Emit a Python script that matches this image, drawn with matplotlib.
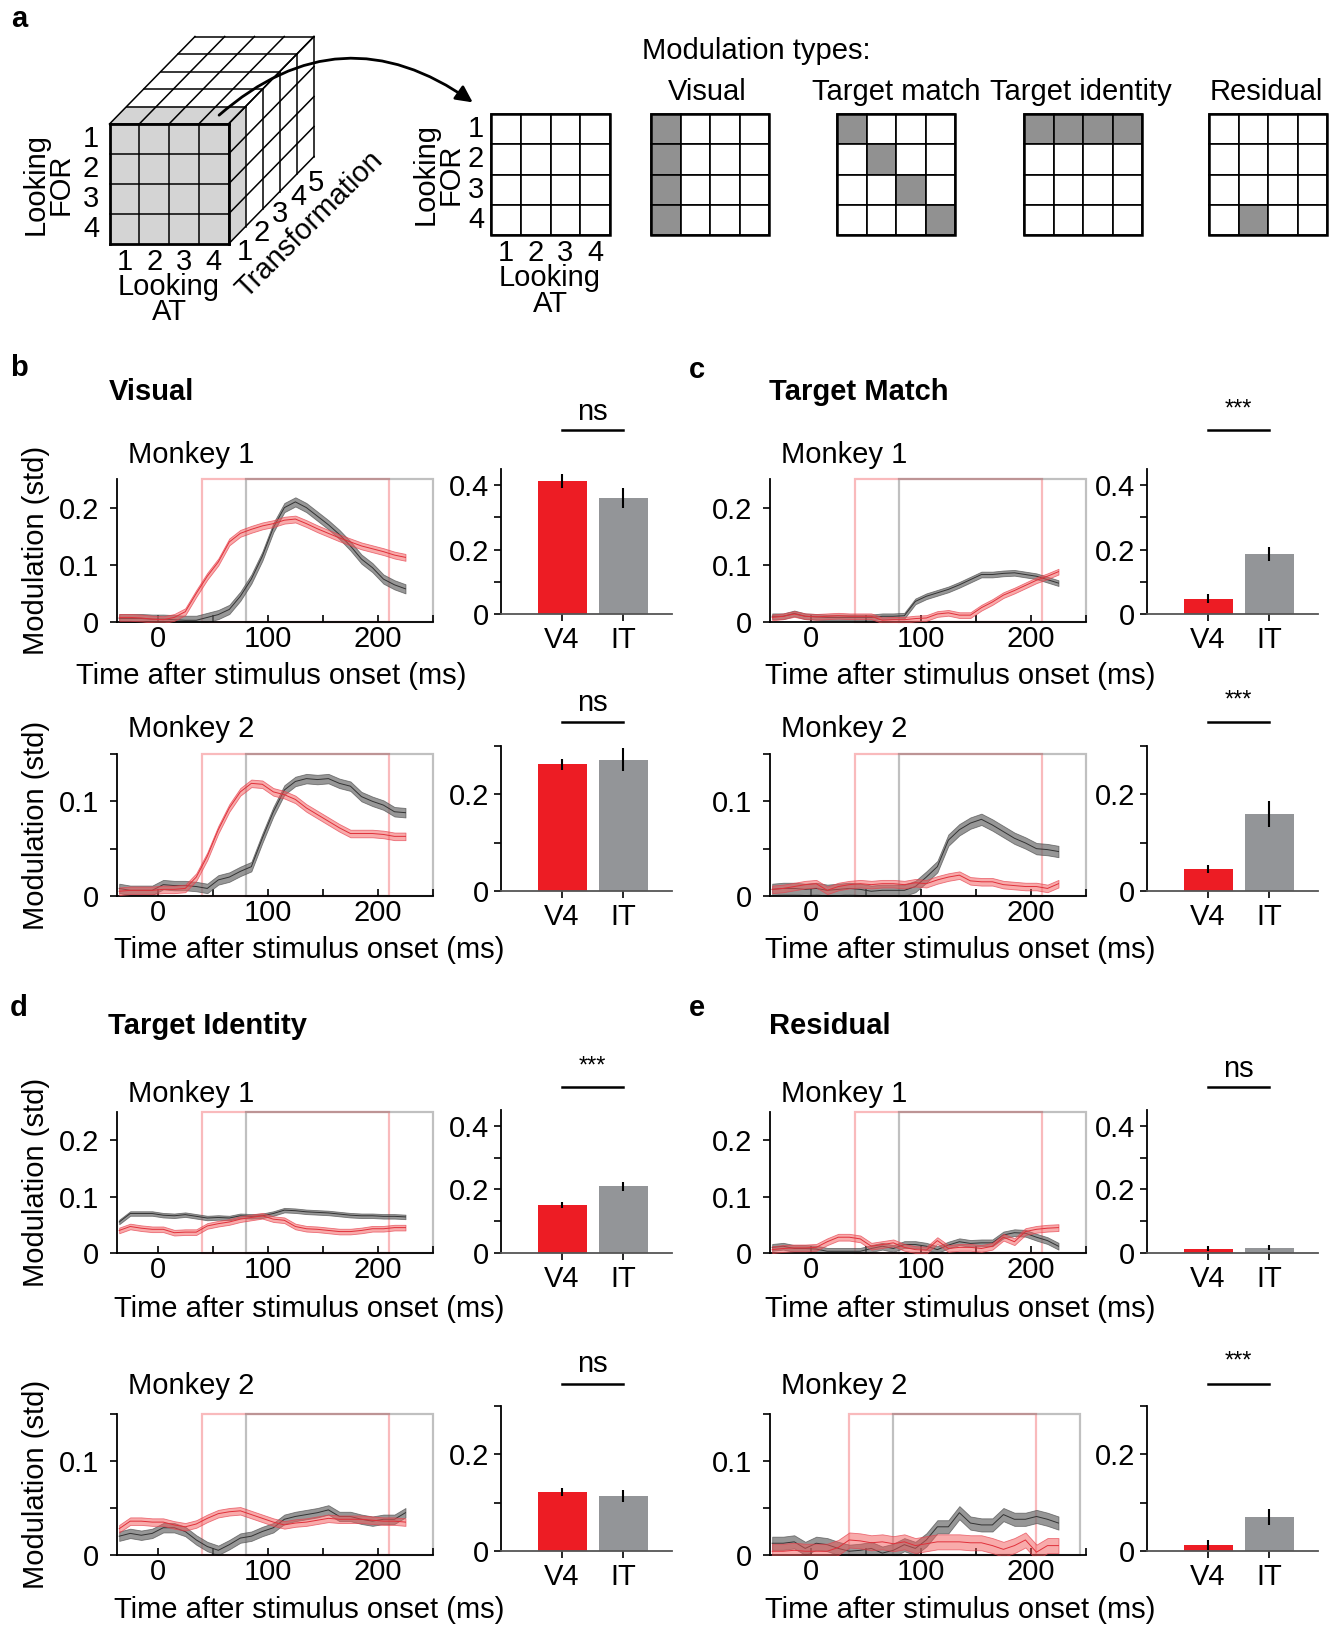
import numpy as np
import matplotlib.pyplot as plt
from matplotlib.patches import Rectangle, Polygon, FancyArrowPatch
from matplotlib import transforms

plt.rcParams['font.family'] = ['Liberation Sans', 'DejaVu Sans']

W, H = 1329, 1625
FS = 21
RED = '#ed1c24'
GRAY = '#939598'

# czas po pojawieniu sie bodzca (ms)
t = np.array([-35, -25, -15, -5, 5, 15, 25, 35, 45, 55, 65, 75, 85, 95,
              105, 115, 125, 135, 145, 155, 165, 175, 185, 195, 205, 215, 225])

# Visual
vis1_v4 = [0.008, 0.008, 0.007, 0.005, 0.004, 0.008, 0.018, 0.05, 0.08, 0.105, 0.14, 0.155, 0.162, 0.168,
           0.172, 0.178, 0.18, 0.172, 0.163, 0.155, 0.147, 0.14, 0.133, 0.128, 0.123, 0.117, 0.113]
vis1_it = [0.006, 0.006, 0.006, 0.005, 0.005, 0.004, 0.003, 0.003, 0.008, 0.013, 0.022, 0.045, 0.075, 0.115,
           0.165, 0.2, 0.21, 0.2, 0.185, 0.17, 0.153, 0.133, 0.11, 0.095, 0.075, 0.065, 0.058]
vis2_v4 = [0.005, 0.006, 0.006, 0.006, 0.007, 0.007, 0.008, 0.02, 0.042, 0.07, 0.093, 0.11, 0.119, 0.118,
           0.11, 0.107, 0.102, 0.093, 0.086, 0.079, 0.072, 0.066, 0.066, 0.066, 0.065, 0.063, 0.063]
vis2_it = [0.008, 0.006, 0.006, 0.006, 0.012, 0.011, 0.011, 0.01, 0.008, 0.017, 0.02, 0.026, 0.031, 0.061,
           0.089, 0.112, 0.121, 0.124, 0.123, 0.124, 0.119, 0.116, 0.105, 0.1, 0.096, 0.089, 0.088]
# Target match
tm1_v4 = [0.008, 0.01, 0.014, 0.01, 0.009, 0.01, 0.011, 0.01, 0.01, 0.01, 0.003, 0.004, 0.004, 0.006,
          0.007, 0.014, 0.016, 0.012, 0.012, 0.025, 0.035, 0.047, 0.055, 0.064, 0.073, 0.08, 0.088]
tm1_it = [0.01, 0.01, 0.015, 0.01, 0.009, 0.008, 0.008, 0.008, 0.008, 0.008, 0.01, 0.01, 0.011, 0.036,
          0.045, 0.051, 0.057, 0.065, 0.074, 0.083, 0.083, 0.085, 0.086, 0.083, 0.08, 0.074, 0.068]
tm2_v4 = [0.007, 0.008, 0.01, 0.012, 0.013, 0.006, 0.01, 0.012, 0.013, 0.012, 0.013, 0.013, 0.012, 0.014,
          0.013, 0.017, 0.02, 0.022, 0.016, 0.015, 0.015, 0.012, 0.011, 0.01, 0.01, 0.008, 0.013]
tm2_it = [0.007, 0.008, 0.008, 0.007, 0.008, 0.006, 0.007, 0.008, 0.007, 0.005, 0.006, 0.006, 0.006, 0.01,
          0.02, 0.031, 0.059, 0.07, 0.077, 0.081, 0.075, 0.068, 0.061, 0.056, 0.05, 0.049, 0.047]
# Target identity
ti1_v4 = [0.04, 0.047, 0.044, 0.042, 0.042, 0.036, 0.037, 0.037, 0.048, 0.052, 0.055, 0.06, 0.063, 0.066,
          0.06, 0.058, 0.047, 0.043, 0.042, 0.04, 0.038, 0.038, 0.04, 0.043, 0.043, 0.045, 0.045]
ti1_it = [0.055, 0.07, 0.07, 0.07, 0.067, 0.066, 0.068, 0.065, 0.062, 0.063, 0.062, 0.066, 0.065, 0.066,
          0.07, 0.076, 0.075, 0.073, 0.072, 0.071, 0.069, 0.067, 0.066, 0.066, 0.065, 0.065, 0.064]
ti2_v4 = [0.028, 0.036, 0.036, 0.035, 0.035, 0.032, 0.03, 0.033, 0.039, 0.044, 0.046, 0.047, 0.043, 0.039,
          0.035, 0.032, 0.034, 0.035, 0.037, 0.039, 0.038, 0.038, 0.038, 0.037, 0.036, 0.036, 0.035]
ti2_it = [0.02, 0.023, 0.021, 0.023, 0.029, 0.029, 0.025, 0.016, 0.009, 0.005, 0.011, 0.018, 0.02, 0.025,
          0.029, 0.038, 0.041, 0.043, 0.045, 0.048, 0.041, 0.041, 0.038, 0.036, 0.038, 0.038, 0.045]
# Residual
res1_v4 = [0.006, 0.008, 0.009, 0.009, 0.01, 0.02, 0.028, 0.028, 0.025, 0.012, 0.015, 0.018, 0.01, 0.006,
           0.005, 0.022, 0.008, 0.01, 0.01, 0.008, 0.012, 0.028, 0.02, 0.038, 0.042, 0.044, 0.045]
res1_it = [0.01, 0.012, 0.008, 0.008, 0.007, 0.003, 0.003, 0.003, 0.003, 0.008, 0.012, 0.008, 0.015, 0.015,
           0.012, 0.006, 0.014, 0.02, 0.017, 0.018, 0.018, 0.032, 0.036, 0.035, 0.028, 0.022, 0.012]
res2_v4 = [0.004, 0.004, 0.005, 0.004, 0.004, 0.004, 0.008, 0.016, 0.015, 0.013, 0.014, 0.012, 0.014, 0.01,
           0.012, 0.014, 0.014, 0.014, 0.013, 0.013, 0.01, 0.006, 0.01, 0.016, 0.003, 0.01, 0.01]
res2_it = [0.0125, 0.0125, 0.014, 0.007, 0.0125, 0.011, 0.007, 0.004, 0.005, 0.007, 0.002, 0.005, 0.011, 0.007,
           0.016, 0.03, 0.03, 0.045, 0.034, 0.032, 0.032, 0.043, 0.038, 0.038, 0.041, 0.038, 0.034]

# polowa szerokosci pasma (SEM), kolejno V4, IT
sem_vis1 = (0.006, 0.008)
sem_vis2 = (0.004, 0.005)
sem_tm1 = (0.005, 0.005)
sem_tm2 = (0.004, 0.006)
sem_ti1 = (0.005, 0.004)
sem_ti2 = (0.004, 0.005)
sem_res1 = (0.006, 0.006)
sem_res2 = (0.008, 0.007)

# slupki: kolejnosc b1, b2, c1, c2, d1, d2, e1, e2
bar_v4 = [0.413, 0.262, 0.047, 0.045, 0.152, 0.122, 0.013, 0.013]
bar_v4_err = [0.023, 0.012, 0.014, 0.008, 0.010, 0.008, 0.008, 0.010]
bar_it = [0.36, 0.272, 0.187, 0.16, 0.21, 0.114, 0.016, 0.07]
bar_it_err = [0.03, 0.023, 0.022, 0.027, 0.015, 0.013, 0.008, 0.017]
sig = ['ns', 'ns', '***', '***', '***', 'ns', 'ns', '***']
bar_labels = ['V4', 'IT']

# wzory modulacji (wiersz, kolumna)
mod_names = ['Visual', 'Target match', 'Target identity', 'Residual']
visual_cells = [(0, 0), (1, 0), (2, 0), (3, 0)]
match_cells = [(0, 0), (1, 1), (2, 2), (3, 3)]
identity_cells = [(0, 0), (0, 1), (0, 2), (0, 3)]
residual_cells = [(3, 1)]

fig = plt.figure(figsize=(W / 100, H / 100), dpi=100)
ov = fig.add_axes([0, 0, 1, 1])
ov.set_xlim(0, W)
ov.set_ylim(H, 0)
ov.axis('off')


def px_axes(l, top, r, b):
    return fig.add_axes([l / W, 1 - b / H, (r - l) / W, (b - top) / H])


# ---------------- panel a ----------------
fx0, fy0, cw, ch = 109.5, 124.0, 29.75, 30.0
ddx, ddy = 17.1, -17.5
fx1, fy1 = fx0 + 4 * cw, fy0 + 4 * ch
grey_face = '#d4d4d4'
ov.add_patch(Polygon([(fx0, fy0), (fx1, fy0), (fx1, fy1), (fx0, fy1)], fc=grey_face, ec='none'))
ov.add_patch(Polygon([(fx0, fy0), (fx0 + ddx, fy0 + ddy), (fx1 + ddx, fy0 + ddy), (fx1, fy0)], fc=grey_face, ec='none'))
ov.add_patch(Polygon([(fx1, fy0), (fx1 + ddx, fy0 + ddy), (fx1 + ddx, fy1 + ddy), (fx1, fy1)], fc=grey_face, ec='none'))


def seg(x0, y0, x1, y1, lw=1.1):
    ov.plot([x0, x1], [y0, y1], color='k', lw=lw, solid_capstyle='projecting')


for k in range(6):
    seg(fx0 + k * ddx, fy0 + k * ddy, fx1 + k * ddx, fy0 + k * ddy)
    seg(fx1 + k * ddx, fy0 + k * ddy, fx1 + k * ddx, fy1 + k * ddy)
for j in range(5):
    seg(fx0 + j * cw, fy0, fx0 + j * cw + 5 * ddx, fy0 + 5 * ddy)
    seg(fx0 + j * cw, fy0, fx0 + j * cw, fy1, lw=2 if j in (0, 4) else 1.1)
for i in range(5):
    seg(fx1, fy0 + i * ch, fx1 + 5 * ddx, fy0 + i * ch + 5 * ddy)
    seg(fx0, fy0 + i * ch, fx1, fy0 + i * ch, lw=2 if i in (0, 4) else 1.1)

for i in range(4):
    ov.text(91, fy0 + (i + 0.5) * ch, str(i + 1), fontsize=FS, ha='center', va='center')
    ov.text(fx0 + (i + 0.5) * cw, 262, str(i + 1), fontsize=FS, ha='center', va='center')
ov.text(48, 184, 'Looking\nFOR', fontsize=FS, rotation=90, ha='center', va='center',
        multialignment='center', linespacing=0.85)
ov.text(169, 287, 'Looking', fontsize=FS, ha='center', va='center')
ov.text(169, 312, 'AT', fontsize=FS, ha='center', va='center')
for k, (x, y) in enumerate([(245, 252), (262, 233), (280, 214), (298, 197), (316, 183)]):
    ov.text(x, y, str(k + 1), fontsize=FS, ha='center', va='center')
ov.text(310, 224, 'Transformation', fontsize=FS, rotation=45, ha='center', va='center',
        rotation_mode='anchor')

ov.add_patch(FancyArrowPatch((217, 117), (475, 104), connectionstyle='arc3,rad=-0.4',
                             arrowstyle='-|>', mutation_scale=25, lw=2, color='k'))


def grid4(x0, y0, x1, y1, cells):
    gw, gh = (x1 - x0) / 4, (y1 - y0) / 4
    for i in range(4):
        for j in range(4):
            fc = '#919191' if (i, j) in cells else 'white'
            ov.add_patch(Rectangle((x0 + j * gw, y0 + i * gh), gw, gh, fc=fc, ec='k', lw=1.2))
    ov.add_patch(Rectangle((x0, y0), x1 - x0, y1 - y0, fc='none', ec='k', lw=1.8))


grid4(491, 114, 610, 235, [])
for i in range(4):
    ov.text(476, 114 + (i + 0.5) * 30.25, str(i + 1), fontsize=FS, ha='center', va='center')
    ov.text(491 + (i + 0.5) * 29.75, 253, str(i + 1), fontsize=FS, ha='center', va='center')
ov.text(438, 174, 'Looking\nFOR', fontsize=FS, rotation=90, ha='center', va='center',
        multialignment='center', linespacing=0.85)
ov.text(550, 278, 'Looking', fontsize=FS, ha='center', va='center')
ov.text(550, 304, 'AT', fontsize=FS, ha='center', va='center')

ov.text(642, 51, 'Modulation types:', fontsize=FS, ha='left', va='center')
mod_cells = [visual_cells, match_cells, identity_cells, residual_cells]
mod_x = [651, 837, 1024, 1209]
mod_label_x = [707, 896, 1081, 1266]
for name, cells, x0, lx in zip(mod_names, mod_cells, mod_x, mod_label_x):
    grid4(x0, 114, x0 + 118, 235, cells)
    ov.text(lx, 92, name, fontsize=FS, ha='center', va='center')

# ---------------- panele b-e ----------------
series = {
    (0, 0): (vis1_v4, vis1_it, sem_vis1), (0, 1): (vis2_v4, vis2_it, sem_vis2),
    (1, 0): (tm1_v4, tm1_it, sem_tm1), (1, 1): (tm2_v4, tm2_it, sem_tm2),
    (0, 2): (ti1_v4, ti1_it, sem_ti1), (0, 3): (ti2_v4, ti2_it, sem_ti2),
    (1, 2): (res1_v4, res1_it, sem_res1), (1, 3): (res2_v4, res2_it, sem_res2),
}
bar_index = {(0, 0): 0, (0, 1): 1, (1, 0): 2, (1, 1): 3, (0, 2): 4, (0, 3): 5, (1, 2): 6, (1, 3): 7}

rows_line = [(479, 622), (754, 896), (1112, 1253), (1414, 1555)]
rows_bar = [(469, 614), (746, 891), (1110, 1253), (1406, 1551)]
cols_line = [(117, 433), (770, 1086)]
cols_bar = [(501, 672), (1147, 1318)]
title_y = [455, 729, 1094, 1386]
xlabel_y = [676, 950, 1309, 1610]
sig_line_y = [430, 722, 1087, 1384]
sig_text_y = {'ns': [412, 703, 1069, 1364], '***': [410, 701, 1067, 1362]}

for (col, row), (v4, it, sem) in series.items():
    v4 = np.array(v4)
    it = np.array(it)
    ymax = 0.25 if row in (0, 2) else 0.15
    ax = px_axes(cols_line[col][0], rows_line[row][0], cols_line[col][1], rows_line[row][1])
    ax.set_xlim(-37, 250)
    ax.set_ylim(0, ymax)
    shift = -5 if (col, row) == (1, 3) else 0
    ax.add_patch(Rectangle((40 + shift, 0), 170, ymax, fc='none', ec=(0.93, 0.11, 0.14, 0.3),
                           lw=1.6, clip_on=False, zorder=1))
    ax.add_patch(Rectangle((80 + shift, 0), 170, ymax, fc='none', ec=(0.3, 0.3, 0.3, 0.35),
                           lw=1.6, clip_on=False, zorder=1))
    ax.fill_between(t, it - sem[1], it + sem[1], fc=(0.42, 0.42, 0.42, 0.7),
                    ec=(0.3, 0.3, 0.3, 0.7), lw=0.6, zorder=2)
    ax.plot(t, it, color='#333333', lw=0.7, zorder=3)
    ax.fill_between(t, v4 - sem[0], v4 + sem[0], fc=(0.95, 0.35, 0.35, 0.5),
                    ec=(0.9, 0.25, 0.3, 0.7), lw=0.6, zorder=4)
    ax.plot(t, v4, color='#e0303a', lw=0.7, zorder=5)
    for s in ('top', 'right'):
        ax.spines[s].set_visible(False)
    for s in ('left', 'bottom'):
        ax.spines[s].set_linewidth(1.3)
    ax.set_xticks([0, 50, 100, 150, 200, 250])
    ax.set_xticklabels(['0', '', '100', '', '200', ''])
    if ymax > 0.2:
        ax.set_yticks([0, 0.1, 0.2])
        ax.set_yticklabels(['0', '0.1', '0.2'])
    else:
        ax.set_yticks([0, 0.05, 0.1, 0.15])
        ax.set_yticklabels(['0', '', '0.1', ''])
    ax.tick_params(axis='x', direction='in', length=5, width=1.2, labelsize=FS, pad=2.5)
    ax.tick_params(axis='y', direction='out', length=5, width=1.2, labelsize=FS, pad=8)

    tx = 128 if col == 0 else 781
    ov.text(tx, title_y[row], 'Monkey %d' % (row % 2 + 1), fontsize=FS, ha='left', va='center')
    xl = 271 if (col, row) == (0, 0) else (309 if col == 0 else 960)
    ov.text(xl, xlabel_y[row], 'Time after stimulus onset (ms)', fontsize=FS, ha='center', va='center')
    if col == 0:
        yc = (rows_line[row][0] + rows_line[row][1]) / 2
        ov.text(36, yc, 'Modulation (std)', fontsize=FS, rotation=90, ha='center', va='center')

    # slupki
    k = bar_index[(col, row)]
    bx = px_axes(cols_bar[col][0], rows_bar[row][0], cols_bar[col][1], rows_bar[row][1])
    bymax = 0.45 if row in (0, 2) else 0.3
    bx.bar([1, 2], [bar_v4[k], bar_it[k]], width=0.8, color=[RED, GRAY])
    bx.vlines([1, 2], [bar_v4[k] - bar_v4_err[k], bar_it[k] - bar_it_err[k]],
              [bar_v4[k] + bar_v4_err[k], bar_it[k] + bar_it_err[k]], color='k', lw=1.5)
    bx.set_xlim(0, 2.8)
    bx.set_ylim(0, bymax)
    bx.set_xticks([1, 2])
    bx.set_xticklabels(bar_labels)
    if bymax > 0.4:
        bx.set_yticks([0, 0.1, 0.2, 0.3, 0.4])
        bx.set_yticklabels(['0', '', '0.2', '', '0.4'])
    else:
        bx.set_yticks([0, 0.1, 0.2, 0.3])
        bx.set_yticklabels(['0', '', '0.2', ''])
    for s in ('top', 'right'):
        bx.spines[s].set_visible(False)
    bx.spines['left'].set_linewidth(1.3)
    bx.spines['bottom'].set_linewidth(1.3)
    bx.spines['bottom'].set_color('#555555')
    bx.tick_params(axis='both', direction='out', length=5, width=1.2, labelsize=FS)

    tr = transforms.blended_transform_factory(bx.transData, ov.transData)
    bx.plot([1, 2], [sig_line_y[row]] * 2, color='k', lw=1.8, transform=tr, clip_on=False)
    if sig[k] == 'ns':
        bx.text(1.5, sig_text_y['ns'][row], 'ns', fontsize=FS, ha='center', va='center', transform=tr)
    else:
        bx.text(1.5, sig_text_y['***'][row], '***', fontsize=17, ha='center', va='center', transform=tr)

# tytuly i litery paneli
for txt, x, y in [('Visual', 109, 392), ('Target Match', 769, 392),
                  ('Target Identity', 108, 1026), ('Residual', 769, 1026)]:
    ov.text(x, y, txt, fontsize=FS, fontweight='bold', ha='left', va='center')
for txt, x, y in [('a', 19, 19), ('b', 19, 368), ('c', 697, 370), ('d', 19, 1008), ('e', 697, 1008)]:
    ov.text(x, y, txt, fontsize=FS, fontweight='bold', ha='center', va='center')

fig.savefig('out.png', dpi=100)
